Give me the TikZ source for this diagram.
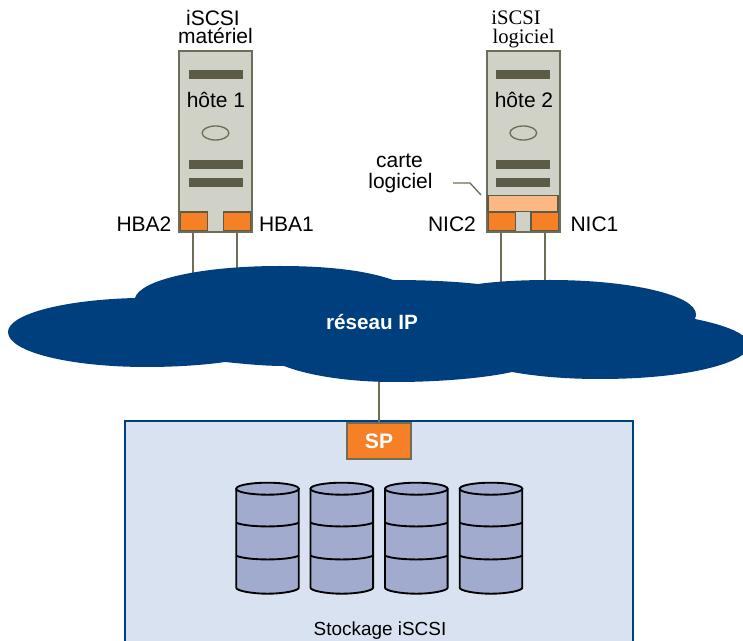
\documentclass[tikz,border=0pt]{standalone}
\usepackage{fontspec}
\usetikzlibrary{shapes.geometric}
\setmainfont{Liberation Sans}
\newfontfamily\serifface{Liberation Serif}
\definecolor{hostgray}{HTML}{D1D2C7}
\definecolor{hostdark}{HTML}{5C5C46}
\definecolor{hostedge}{HTML}{6E6E58}
\definecolor{portorange}{HTML}{F58025}
\definecolor{softpeach}{HTML}{FBB884}
\definecolor{ipblue}{HTML}{003F7D}
\definecolor{storefill}{HTML}{D9E2F0}
\definecolor{diskfill}{HTML}{A0ABCD}
\begin{document}
\begin{tikzpicture}[
    x=0.75pt,
    y=-0.75pt,
    label/.style={
        inner sep=0pt,
        anchor=base,
        font=\fontsize{15.75pt}{18pt}\selectfont
    },
    seriflabel/.style={
        label,
        font=\fontsize{15.5pt}{18pt}\selectfont\serifface
    },
    host/.style={
        draw=hostedge,
        fill=hostgray,
        line width=1.5pt,
        minimum width=54.75pt,
        minimum height=135.5pt,
        inner sep=0pt
    },
    slot/.style={
        fill=hostdark,
        minimum width=40.5pt,
        minimum height=6.75pt,
        inner sep=0pt
    },
    led/.style={
        ellipse,
        draw=hostedge,
        line width=1pt,
        minimum width=20pt,
        minimum height=10.5pt,
        inner sep=0pt
    },
    port/.style={
        draw=hostdark,
        fill=portorange,
        line width=1pt,
        minimum width=20pt,
        minimum height=14pt,
        inner sep=0pt
    },
    softcard/.style={
        draw=hostdark,
        fill=softpeach,
        line width=1pt,
        minimum width=52.5pt,
        minimum height=12pt,
        inner sep=0pt
    },
    link/.style={
        draw=hostedge,
        line width=1.5pt
    },
    disk/.pic={
        \draw[fill=diskfill,line width=1.4pt] (-31.3,0) -- (-31.3,99) .. controls (-31.3,102) and (-16,105) .. (0,105) .. controls (16,105) and (31.3,102) .. (31.3,99) -- (31.3,0);
        \draw[fill=diskfill,line width=1.4pt] (0,0) ellipse (31.3 and 6);
        \draw[line width=1.4pt] (-31.3,34) .. controls (-20,39) and (20,39) .. (31.3,34);
        \draw[line width=1.4pt] (-31.3,67) .. controls (-20,72) and (20,72) .. (31.3,67);
    }
]

\useasboundingbox (0,0) rectangle (743,641);
\clip (0,0) rectangle (743,641);

% storage box
\draw[draw=ipblue,fill=storefill,line width=1.5pt] (125,421) rectangle (632.5,660);

% first host
\node[host] (host1) at (215.5,141.5) {};
\node[slot] (slot1a) at (216,74.5) {};
\node[slot] (slot1b) at (216,164.5) {};
\node[slot] (slot1c) at (216,182.5) {};
\node[led] (led1) at (215.5,133) {};
\node[port] (HBA2) at (194,221.5) {};
\node[port] (HBA1) at (237,221.5) {};
\node[label] (name1) at (216,107.5) {hôte 1};
\node[label] (type1a) at (213,26) {iSCSI};
\node[label] (type1b) at (215.5,43.5) {matériel};
\node[label] (lab2) at (144,231.5) {HBA2};
\node[label] (lab1) at (286.5,231.5) {HBA1};

% second host
\node[host] (host2) at (523,141.5) {};
\node[slot] (slot2a) at (523,74.5) {};
\node[slot] (slot2b) at (523,164.5) {};
\node[slot] (slot2c) at (523,182.5) {};
\node[led] (led2) at (523.3,133) {};
\node[softcard] (card) at (523,203.5) {};
\node[port,minimum width=20.5pt] (NIC2) at (502,221.5) {};
\node[port,minimum width=20.5pt] (NIC1) at (544.5,221.5) {};
\node[label] (name2) at (524,107.5) {hôte 2};
\node[seriflabel] (type2a) at (516,25) {iSCSI};
\node[seriflabel] (type2b) at (523.5,43.5) {logiciel};
\node[label] (lab3) at (399.5,167.5) {carte};
\node[label] (lab4) at (400.5,189) {logiciel};
\node[label] (lab5) at (452,231.5) {NIC2};
\node[label] (lab6) at (594.5,231.5) {NIC1};

% leader line of the card
\coordinate (leadA) at (453,183);
\coordinate (leadB) at (470,183);
\coordinate (leadC) at (481,195);
\draw[link,line width=1pt] (leadA) -- (leadB) -- (leadC);

% storage port and disks
\node[draw=hostedge,fill=portorange,line width=1.5pt,minimum width=48.5pt,minimum height=27.5pt,inner sep=0pt,text=white,font=\bfseries\fontsize{15.75pt}{18pt}\selectfont] (SP) at (379,441) {SP};
\pic at (267.5,488.7) {disk};
\pic at (341.8,488.7) {disk};
\pic at (416.3,488.7) {disk};
\pic at (491,488.7) {disk};
\node[label,font=\fontsize{14.2pt}{18pt}\selectfont] (storename) at (380,635) {Stockage iSCSI};

% links down to the network
\coordinate (netA) at (193,290);
\coordinate (netB) at (237,290);
\coordinate (netC) at (501,300);
\coordinate (netD) at (545,300);
\coordinate (netE) at (379,370);
\draw[link] (HBA2.south -| netA) -- (netA);
\draw[link] (HBA1) -- (netB);
\draw[link] (NIC2.south -| netC) -- (netC);
\draw[link] (NIC1.south -| netD) -- (netD);
\draw[link] (netE) -- (SP);

% network cloud
\fill[ipblue] (135,298) .. controls (60,300) and (8,315) .. (8,332)
    .. controls (8,352) and (70,367) .. (147,367)
    .. controls (175,367) and (205,365) .. (225,362)
    .. controls (245,364) and (265,366) .. (284,366)
    .. controls (310,376) and (350,382) .. (395,382)
    .. controls (440,382) and (485,378) .. (512,372)
    .. controls (540,377) and (570,379) .. (600,379)
    .. controls (690,379) and (749,362) .. (749,345)
    .. controls (749,334) and (725,325) .. (695,319)
    -- (696,315) .. controls (697,295) and (630,280) .. (550,280)
    .. controls (525,280) and (500,281) .. (478,284)
    .. controls (450,281) and (420,280) .. (393,280)
    .. controls (365,270) and (325,266) .. (280,266)
    .. controls (200,266) and (140,280) .. (135,298) -- cycle;
\node[label,text=white,font=\bfseries\fontsize{15.5pt}{18pt}\selectfont] (net) at (372,330) {réseau IP};

\end{tikzpicture}
\end{document}
